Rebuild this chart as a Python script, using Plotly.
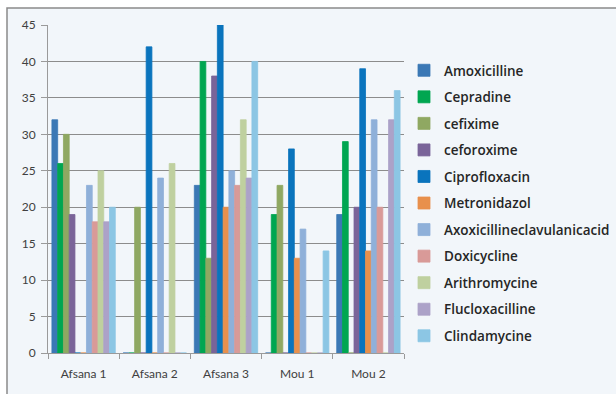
import plotly.graph_objects as go

# Sampling sites along the x axis
sites = ["Afsana 1", "Afsana 2", "Afsana 3", "Mou 1", "Mou 2"]

# Counts per antibiotic at each site
amoxicilline = [32, 0, 23, 0, 19]
cepradine = [26, 0, 40, 19, 29]
cefixime = [30, 20, 13, 23, 0]
ceforoxime = [19, 0, 38, 0, 20]
ciprofloxacin = [0, 42, 45, 28, 39]
metronidazol = [0, 0, 20, 13, 14]
axoxicilline_clav = [23, 24, 25, 17, 32]
doxicycline = [18, 0, 23, 0, 20]
arithromycine = [25, 26, 32, 0, 0]
flucloxacilline = [18, 0, 24, 0, 32]
clindamycine = [20, 0, 40, 14, 36]

series = [
    ("Amoxicilline", amoxicilline, "#3b78b5"),
    ("Cepradine", cepradine, "#00a651"),
    ("cefixime", cefixime, "#8fa862"),
    ("ceforoxime", ceforoxime, "#7a6499"),
    ("Ciprofloxacin", ciprofloxacin, "#0a74bd"),
    ("Metronidazol", metronidazol, "#e8904c"),
    ("Axoxicillineclavulanicacid", axoxicilline_clav, "#8fb0d9"),
    ("Doxicycline", doxicycline, "#d99a98"),
    ("Arithromycine", arithromycine, "#bfd09f"),
    ("Flucloxacilline", flucloxacilline, "#aca2c8"),
    ("Clindamycine", clindamycine, "#8cc6e4"),
]

fig = go.Figure()
for name, vals, color in series:
    fig.add_trace(go.Bar(
        x=sites, y=vals, name=name, legendgroup=name,
        marker=dict(color=color, line=dict(color=color, width=0.8)),
    ))

L, R, T, B = 48, 212, 25, 41
W, H = 616, 394
pw, ph = W - L - R, H - T - B

def px_x(p):
    return (p - L) / pw

def px_y(p):
    return (H - B - p) / ph

fig.update_layout(
    width=W, height=H,
    margin=dict(l=L, r=R, t=T, b=B, autoexpand=False),
    paper_bgcolor="white",
    plot_bgcolor="rgba(0,0,0,0)",
    barmode="group",
    bargap=0.11,
    bargroupgap=0,
    font=dict(family="Lato, Open Sans, sans-serif", size=12, color="#404040"),
    showlegend=True,
    legend=dict(
        x=px_x(404), y=px_y(55), xanchor="left", yanchor="top",
        font=dict(size=13.5, color="#262626", family="Open Sans, sans-serif", weight=600),
        tracegroupgap=6, itemwidth=30, bgcolor="rgba(0,0,0,0)",
        traceorder="grouped",
    ),
    shapes=[dict(
        type="rect", xref="paper", yref="paper", layer="below",
        x0=px_x(7), x1=px_x(640), y0=px_y(420), y1=px_y(8),
        fillcolor="#f2f6fa", line=dict(color="#8a8a8a", width=1.5),
    )],
    xaxis=dict(
        showgrid=False, showline=True, linecolor="#9a9a9a", linewidth=1,
        ticks="outside", tickson="boundaries", ticklen=5, tickcolor="#9a9a9a",
        tickfont=dict(size=12, color="#404040"), ticklabelstandoff=10,
    ),
    yaxis=dict(
        range=[0, 45], dtick=5, showgrid=True, gridcolor="#8c8c8c", gridwidth=1,
        showline=True, linecolor="#9a9a9a", linewidth=1,
        ticks="outside", ticklen=6, tickcolor="#9a9a9a",
        tickfont=dict(size=12, color="#404040"), zeroline=False,
        ticklabelstandoff=3,
    ),
)

fig.write_html("out.html")
